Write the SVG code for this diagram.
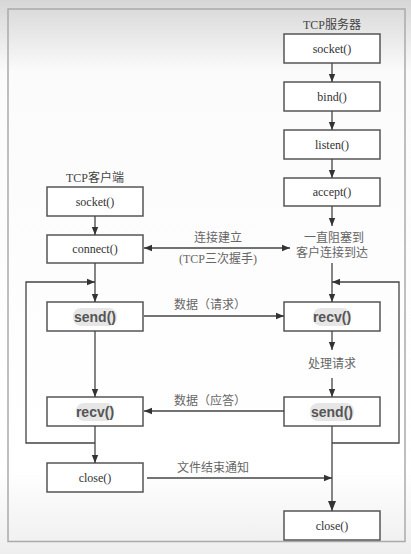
<svg xmlns="http://www.w3.org/2000/svg" width="411" height="554" viewBox="0 0 411 554">
<defs>
<linearGradient id="bg" x1="0" y1="0" x2="0" y2="1">
<stop offset="0" stop-color="#d6d6d6"/>
<stop offset="0.13" stop-color="#fbfbfb"/>
<stop offset="0.85" stop-color="#ffffff"/>
<stop offset="1" stop-color="#eeeeee"/>
</linearGradient>
<marker id="ah" viewBox="0 0 8 8" refX="8" refY="4" markerWidth="8" markerHeight="8" markerUnits="userSpaceOnUse" orient="auto-start-reverse">
<path d="M0,0.8 L8,4 L0,7.2 Z" fill="#333"/>
</marker>
<marker id="ahb" viewBox="0 0 10 10" refX="10" refY="5" markerWidth="10" markerHeight="10" markerUnits="userSpaceOnUse" orient="auto">
<path d="M0,1 L10,5 L0,9 Z" fill="#333"/>
</marker>
</defs>
<style>
.box{fill:#fff;stroke:#555;stroke-width:1.5}
.lbl{font-family:"Liberation Serif","Noto Sans CJK SC",serif;font-size:12px;fill:#333;text-anchor:middle}
.bold{font-family:"Liberation Sans",Arial,sans-serif;font-size:14px;font-weight:bold;fill:#555;text-anchor:middle}
.hl{fill:#e6e6e6}
.cn{font-family:"Liberation Serif","Noto Sans CJK SC",serif;font-size:12px;fill:#666;text-anchor:middle}
.ln{fill:none;stroke:#444;stroke-width:1.3}
</style>
<rect x="0" y="0" width="411" height="554" fill="url(#bg)"/>
<rect x="8" y="9" width="397" height="532.5" fill="none" stroke="#aaa" stroke-width="1.5"/>

<g id="titles">
<text class="cn" x="332" y="29" fill="#444" style="fill:#444">TCP服务器</text>
<text class="cn" x="95" y="182" style="fill:#444">TCP客户端</text>
</g>

<g id="s-socket"><rect class="box" x="284" y="34" width="96" height="29"/><text class="lbl" x="332" y="53">socket()</text></g>
<g id="s-bind"><rect class="box" x="284" y="82" width="96" height="29"/><text class="lbl" x="332" y="101">bind()</text></g>
<g id="s-listen"><rect class="box" x="284" y="130" width="96" height="29"/><text class="lbl" x="332" y="149">listen()</text></g>
<g id="s-accept"><rect class="box" x="284" y="178" width="96" height="28"/><text class="lbl" x="332" y="196">accept()</text></g>
<g id="s-block"><text class="cn" x="334" y="242">一直阻塞到</text><text class="cn" x="332" y="257">客户连接到达</text></g>
<g id="s-recv"><rect class="box" x="284" y="302" width="96" height="29"/><rect class="hl" x="313" y="308" width="38" height="18" rx="8"/><text class="bold" x="332" y="322">recv()</text></g>
<g id="s-proc"><text class="cn" x="332" y="368">处理请求</text></g>
<g id="s-send"><rect class="box" x="284" y="397" width="96" height="29"/><rect class="hl" x="310" y="403" width="44" height="18" rx="8"/><text class="bold" x="332" y="417">send()</text></g>
<g id="s-close"><rect class="box" x="284" y="511" width="96" height="29"/><text class="lbl" x="332" y="530">close()</text></g>

<g id="c-socket"><rect class="box" x="47" y="187" width="96" height="29"/><text class="lbl" x="95" y="206">socket()</text></g>
<g id="c-connect"><rect class="box" x="47" y="235" width="96" height="28"/><text class="lbl" x="95" y="253">connect()</text></g>
<g id="c-send"><rect class="box" x="47" y="302" width="96" height="29"/><rect class="hl" x="73" y="308" width="44" height="18" rx="8"/><text class="bold" x="95" y="322">send()</text></g>
<g id="c-recv"><rect class="box" x="47" y="397" width="96" height="29"/><rect class="hl" x="76" y="403" width="38" height="18" rx="8"/><text class="bold" x="95" y="417">recv()</text></g>
<g id="c-close"><rect class="box" x="47" y="463" width="96" height="29"/><text class="lbl" x="95" y="482">close()</text></g>

<g id="connectors">
<path class="ln" d="M332,63 V82" marker-end="url(#ah)"/>
<path class="ln" d="M332,111 V130" marker-end="url(#ah)"/>
<path class="ln" d="M332,159 V178" marker-end="url(#ah)"/>
<path class="ln" d="M332,206 V226" marker-end="url(#ah)"/>
<path class="ln" d="M332,263 V302" marker-end="url(#ah)"/>
<path class="ln" d="M332,331 V350" marker-end="url(#ah)"/>
<path class="ln" d="M332,378 V397" marker-end="url(#ah)"/>
<path class="ln" d="M332,426 V511" marker-end="url(#ahb)"/>
<path class="ln" d="M332,443 H399 V282 H332" marker-end="url(#ah)"/>

<path class="ln" d="M95,216 V235" marker-end="url(#ah)"/>
<path class="ln" d="M95,263 V302" marker-end="url(#ah)"/>
<path class="ln" d="M95,331 V397" marker-end="url(#ah)"/>
<path class="ln" d="M95,426 V463" marker-end="url(#ah)"/>
<path class="ln" d="M95,443 H26 V282 H95" marker-end="url(#ah)"/>

<path class="ln" d="M144,248 H290" marker-start="url(#ah)" marker-end="url(#ah)"/>
<path class="ln" d="M144,316 H284" marker-end="url(#ah)"/>
<path class="ln" d="M284,411 H144" marker-end="url(#ah)"/>
<path class="ln" d="M147,478 H332" marker-end="url(#ah)"/>
</g>

<g id="edge-labels">
<text class="cn" x="218" y="242">连接建立</text>
<text class="cn" x="218" y="263">(TCP三次握手)</text>
<text class="cn" x="210" y="309">数据（请求）</text>
<text class="cn" x="210" y="405">数据（应答）</text>
<text class="cn" x="213" y="472">文件结束通知</text>
</g>
</svg>
